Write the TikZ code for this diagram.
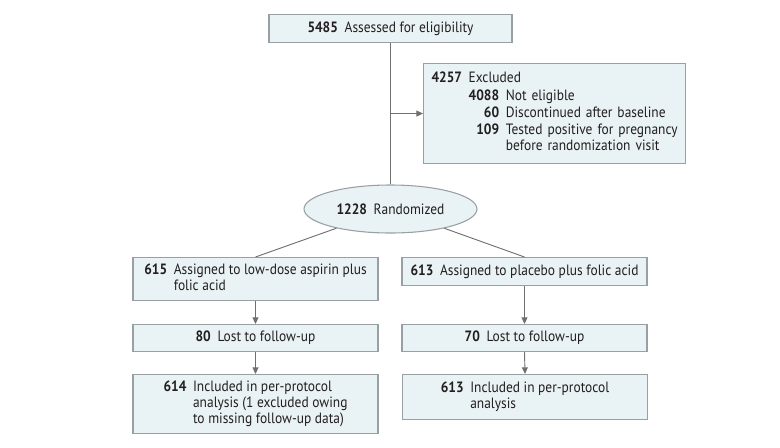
\documentclass[tikz,border=0pt]{standalone}
\usepackage{fontspec}
\setmainfont[FakeStretch=0.9]{PT Sans}
\usetikzlibrary{shapes.geometric,arrows.meta}
\definecolor{boxfill}{RGB}{233,242,244}
\definecolor{boxline}{RGB}{152,160,163}
\definecolor{linkgray}{RGB}{112,112,112}
\definecolor{inkblack}{RGB}{35,31,32}
\tikzset{
  flowbox/.style={draw=boxline,fill=boxfill,line width=0.8pt,inner sep=0pt,anchor=north,minimum width=183.75pt,text=inkblack,font=\fontsize{11.2}{12}\selectfont},
  flowlink/.style={draw=linkgray,line width=0.7pt},
  flowarrow/.style={flowlink,-{Triangle[length=5pt,width=4.5pt]}}
}
\newcommand{\cnt}[1]{\textbf{#1}}
\begin{document}
\begin{tikzpicture}[x=0.75pt,y=0.75pt,yscale=-1,xscale=1]
%set diagram left start at 0, and has height of 447
\useasboundingbox (0,0) rectangle (780,447);

%Shape: Rectangle
\node[flowbox,minimum width=182.25pt,minimum height=21pt] (assess) at (390.5,14) {\cnt{5485}\hspace{5pt}Assessed for eligibility};
%Shape: Rectangle
\node[flowbox,anchor=north west,minimum width=196.5pt,minimum height=75pt,text width=184.5pt,align=left] (excl) at (423,63)
  {\begin{tabular}{@{}l@{}r@{\hspace{5pt}}l@{}}
   \multicolumn{3}{@{}l@{}}{\cnt{4257}\hspace{5pt}Excluded}\\[1pt]
   \hphantom{\cnt{4257}\hspace{5pt}} & \cnt{4088} & Not eligible\\[1pt]
   & \cnt{60} & Discontinued after baseline\\[1pt]
   & \cnt{109} & Tested positive for pregnancy\\
   & & before randomization visit
   \end{tabular}};
%Shape: Ellipse
\node[flowbox,ellipse,anchor=center,minimum width=129.75pt,minimum height=36pt] (rand) at (390.5,209) {\cnt{1228}\hspace{5pt}Randomized};

%Shape: Rectangle
\node[flowbox,minimum height=32.25pt] (armasp) at (255.5,257)
  {\begin{tabular}{@{}r@{\hspace{5pt}}l@{}}\cnt{615} & Assigned to low-dose aspirin plus\\ & folic acid\end{tabular}};
%Shape: Rectangle
\node[flowbox,minimum height=21pt] (armplc) at (524.5,257) {\cnt{613}\hspace{5pt}Assigned to placebo plus folic acid};
%Shape: Rectangle
\node[flowbox,minimum height=20.25pt] (lostasp) at (255.5,324) {\cnt{80}\hspace{5pt}Lost to follow-up};
%Shape: Rectangle
\node[flowbox,minimum height=20.25pt] (lostplc) at (524.5,324) {\cnt{70}\hspace{5pt}Lost to follow-up};
%Shape: Rectangle
\node[flowbox,minimum height=44.25pt] (ppasp) at (255.5,374)
  {\begin{tabular}{@{}r@{\hspace{5pt}}l@{}}\cnt{614} & Included in per-protocol\\ & analysis (1 excluded owing\\ & to missing follow-up data)\end{tabular}};
%Shape: Rectangle
\node[flowbox,minimum height=33.75pt] (ppplc) at (525,374)
  {\begin{tabular}{@{}r@{\hspace{5pt}}l@{}}\cnt{613} & Included in per-protocol\\ & analysis\end{tabular}};

%Straight Lines
\coordinate (split) at (assess.south |- excl.west);
\draw[flowlink] (assess.south) -- (rand.north);
\draw[flowarrow] (split) -- (excl.west);
\draw[flowlink] (rand) -- (armasp.north);
\draw[flowlink] (rand) -- (armplc.north);
\draw[flowarrow] (armasp.south) -- (lostasp.north);
\draw[flowarrow] (armplc.south) -- (lostplc.north);
\draw[flowarrow] (lostasp.south) -- (ppasp.north);
\draw[flowarrow] (lostplc.south) -- (ppplc.north);
\end{tikzpicture}
\end{document}
